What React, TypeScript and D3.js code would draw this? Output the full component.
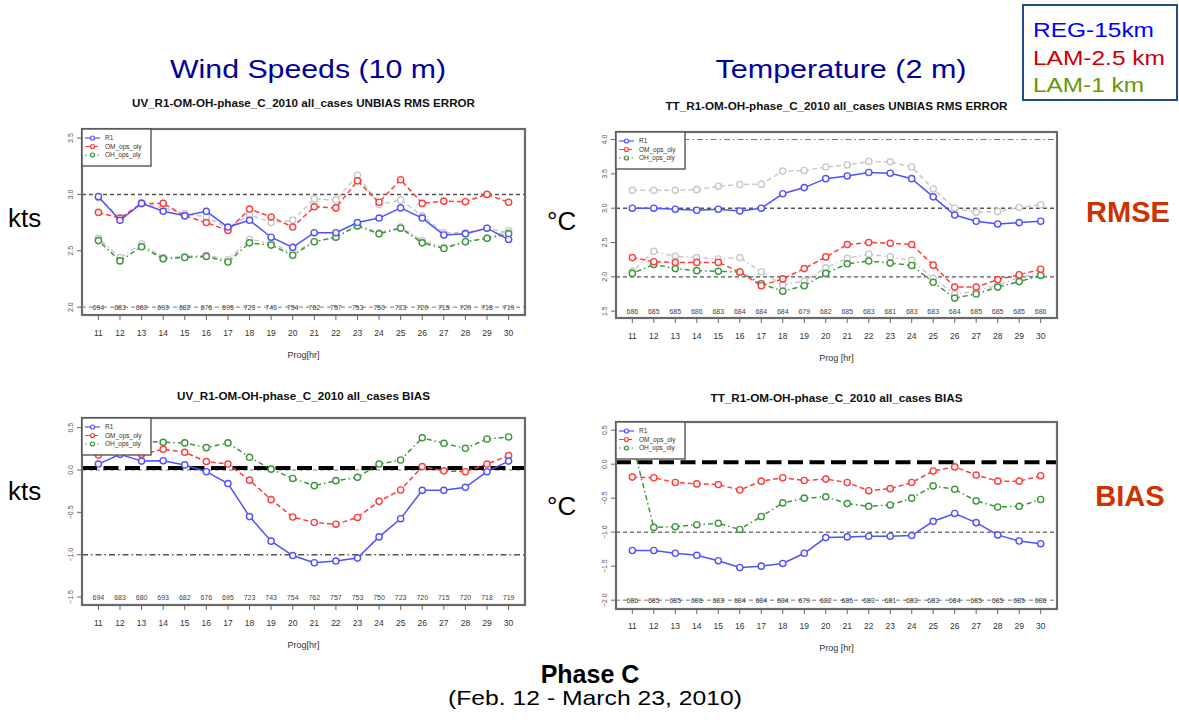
import React from "react";
import * as d3 from "d3";

// forecast hours (x axis)
const hours = [11, 12, 13, 14, 15, 16, 17, 18, 19, 20, 21, 22, 23, 24, 25, 26, 27, 28, 29, 30];

// number of cases per hour
const uvCounts = ["694", "683", "680", "693", "682", "676", "695", "723", "743", "754", "762", "757", "753", "750", "723", "720", "715", "720", "718", "719"];
const ttCounts = ["686", "685", "685", "686", "683", "684", "684", "684", "679", "682", "685", "683", "681", "683", "683", "684", "685", "685", "685", "686"];

// UV unbiased RMS error
const uvRmseR1 = [2.98, 2.77, 2.92, 2.85, 2.81, 2.85, 2.71, 2.77, 2.62, 2.53, 2.66, 2.66, 2.75, 2.79, 2.88, 2.79, 2.64, 2.65, 2.7, 2.6];
const uvRmseOM = [2.84, 2.79, 2.92, 2.92, 2.81, 2.75, 2.68, 2.87, 2.8, 2.71, 2.89, 2.88, 3.12, 2.93, 3.13, 2.92, 2.94, 2.935, 3.0, 2.93];
const uvRmseOH = [2.59, 2.41, 2.535, 2.43, 2.44, 2.45, 2.4, 2.57, 2.55, 2.46, 2.58, 2.62, 2.72, 2.65, 2.7, 2.57, 2.52, 2.58, 2.61, 2.65];
const uvRmseRefA = [2.97, 2.79, 2.92, 2.88, 2.83, 2.8, 2.7, 2.82, 2.75, 2.77, 2.96, 2.95, 3.17, 2.91, 2.95, 2.81, 2.66, 2.66, 2.7, 2.66];
const uvRmseRefB = [2.61, 2.44, 2.56, 2.44, 2.45, 2.46, 2.42, 2.6, 2.57, 2.48, 2.58, 2.62, 2.73, 2.66, 2.71, 2.59, 2.53, 2.58, 2.61, 2.68];

// TT unbiased RMS error
const ttRmseR1 = [3.0, 3.0, 2.985, 2.97, 2.985, 2.96, 3.0, 3.21, 3.3, 3.43, 3.47, 3.52, 3.51, 3.43, 3.165, 2.9, 2.81, 2.77, 2.79, 2.81];
const ttRmseOM = [2.28, 2.22, 2.21, 2.21, 2.21, 2.07, 1.87, 1.97, 2.12, 2.29, 2.47, 2.5, 2.49, 2.47, 2.17, 1.85, 1.85, 1.96, 2.03, 2.11];
const ttRmseOH = [2.05, 2.18, 2.12, 2.09, 2.08, 2.07, 1.9, 1.79, 1.87, 2.05, 2.19, 2.23, 2.2, 2.165, 1.92, 1.69, 1.75, 1.85, 1.93, 2.02];
const ttRmseRefA = [3.26, 3.26, 3.26, 3.27, 3.32, 3.345, 3.35, 3.54, 3.55, 3.6, 3.63, 3.68, 3.675, 3.6, 3.28, 3.0, 2.94, 2.95, 3.01, 3.05];
const ttRmseRefB = [2.08, 2.37, 2.3, 2.28, 2.26, 2.28, 2.07, 1.88, 1.94, 2.13, 2.27, 2.33, 2.29, 2.24, 1.98, 1.75, 1.79, 1.88, 1.99, 2.05];

// UV bias
const uvBiasR1 = [0.07, 0.185, 0.105, 0.11, 0.06, -0.02, -0.16, -0.55, -0.84, -1.01, -1.095, -1.075, -1.04, -0.79, -0.575, -0.24, -0.24, -0.205, -0.02, 0.105];
const uvBiasOM = [0.177, 0.307, 0.185, 0.244, 0.209, 0.1, 0.07, -0.12, -0.35, -0.555, -0.62, -0.64, -0.56, -0.37, -0.236, 0.04, -0.01, -0.02, 0.07, 0.17];
const uvBiasOH = [0.335, 0.354, 0.34, 0.327, 0.32, 0.264, 0.32, 0.15, 0.01, -0.1, -0.185, -0.126, -0.087, 0.07, 0.118, 0.38, 0.315, 0.256, 0.366, 0.39];

// TT bias
const ttBiasR1 = [-1.27, -1.27, -1.31, -1.34, -1.42, -1.52, -1.5, -1.46, -1.31, -1.08, -1.07, -1.06, -1.06, -1.05, -0.84, -0.725, -0.86, -1.04, -1.13, -1.17];
const ttBiasOM = [-0.19, -0.2, -0.27, -0.29, -0.3, -0.38, -0.25, -0.2, -0.24, -0.22, -0.27, -0.39, -0.36, -0.27, -0.1, -0.04, -0.16, -0.25, -0.25, -0.17];
const ttBiasOH = [0.32, -0.93, -0.92, -0.89, -0.87, -0.96, -0.77, -0.57, -0.5, -0.48, -0.58, -0.62, -0.6, -0.5, -0.32, -0.37, -0.54, -0.63, -0.62, -0.52];

const legendNames = ["R1", "OM_ops_oly", "OH_ops_oly"];
const legendTop = ["REG-15km", "LAM-2.5 km", "LAM-1 km"];
const legendTopColors = ["#0000ff", "#cc0000", "#669900"];

const FONT = "'Liberation Sans', Arial, sans-serif";
const BLUE = "#5050ff";
const RED = "#ff3c3c";
const GREEN = "#3c963c";
const GRAY = "#c8c8c8";

type Line = { values: number[]; color: string; dash: string; width: number };
type Ref = { v: number; dash: string; color: string; width: number; offset?: number };

type PanelProps = {
  title: string;
  titleY: number;
  titleW: number;
  x0: number; x1: number; y0: number; y1: number;
  domain: [number, number];
  ticks: number[];
  refs: Ref[];
  lines: Line[];
  counts: string[];
  countAt: number;
  tickY: number;
  xlab: string;
  xlabY: number;
};

function Panel(p: PanelProps) {
  const x = d3.scaleLinear().domain([11 - 0.76, 30 + 0.76]).range([p.x0, p.x1]);
  const y = d3.scaleLinear().domain(p.domain).range([p.y1, p.y0]);
  const line = d3.line<number>().x((d, i) => x(hours[i])).y((d) => y(d));
  const cx = (p.x0 + p.x1) / 2;
  return (
    <g fontFamily={FONT}>
      <text x={cx} y={p.titleY} textAnchor="middle" fontSize={10} fontWeight="bold" fill="#111"
        textLength={p.titleW} lengthAdjust="spacingAndGlyphs">{p.title}</text>
      {p.refs.map((r, i) => (
        <line key={"r" + i} x1={p.x0} x2={p.x1} y1={y(r.v) + (r.offset || 0)} y2={y(r.v) + (r.offset || 0)}
          stroke={r.color} strokeWidth={r.width} strokeDasharray={r.dash} />
      ))}
      {p.counts.map((c, i) => (
        <text key={"c" + i} x={x(hours[i])} y={y(p.countAt) + 2.5} textAnchor="middle" fontSize={7} fill="#444">{c}</text>
      ))}
      {p.lines.map((s, k) => (
        <g key={"s" + k}>
          <path d={line(s.values) || ""} fill="none" stroke={s.color} strokeWidth={s.width} strokeDasharray={s.dash} />
          {s.values.map((v, i) => (
            <circle key={i} cx={x(hours[i])} cy={y(v)} r={3.1} fill="white" stroke={s.color} strokeWidth={1.4} />
          ))}
        </g>
      ))}
      <rect x={p.x0} y={p.y0} width={p.x1 - p.x0} height={p.y1 - p.y0} fill="none" stroke="#6a6a6a" strokeWidth={2.2} />
      {/* y axis */}
      {p.ticks.map((t) => (
        <g key={"yt" + t}>
          <line x1={p.x0 - 5} x2={p.x0} y1={y(t)} y2={y(t)} stroke="#666" strokeWidth={1} />
          <text transform={`translate(${p.x0 - 9},${y(t)}) rotate(-90)`} textAnchor="middle" fontSize={7} fill="#555">
            {d3.format(".1f")(t).replace("-", "\u2212")}
          </text>
        </g>
      ))}
      {/* x axis */}
      {hours.map((h) => (
        <g key={"xt" + h}>
          <line x1={x(h)} x2={x(h)} y1={p.y1} y2={p.y1 + 5} stroke="#666" strokeWidth={1} />
          <text x={x(h)} y={p.tickY} textAnchor="middle" fontSize={8.5} fill="#333">{h}</text>
        </g>
      ))}
      <text x={cx} y={p.xlabY} textAnchor="middle" fontSize={9} fill="#333">{p.xlab}</text>
      {/* legend */}
      <rect x={p.x0} y={p.y0} width={69} height={37} fill="white" stroke="#555" strokeWidth={1.4} />
      {legendNames.map((n, i) => {
        const s = p.lines[p.lines.length - 1 - i];
        const ly = p.y0 + 9 + i * 8.5;
        return (
          <g key={n}>
            <line x1={p.x0 + 3} x2={p.x0 + 18} y1={ly} y2={ly} stroke={s.color} strokeWidth={1.2} strokeDasharray={s.dash} />
            <circle cx={p.x0 + 10.5} cy={ly} r={2} fill="white" stroke={s.color} strokeWidth={1.2} />
            <text x={p.x0 + 23} y={ly + 2.3} fontSize={6.5} fill="#333">{n}</text>
          </g>
        );
      })}
    </g>
  );
}

export default function App() {
  const solid = "";
  const dashed = "5,3";
  const dotdash = "1.5,3,5,3";
  const thick: Ref = { v: 0, dash: "15,6.5", color: "#000", width: 4, offset: -2 };

  return (
    <svg width={1179} height={724} style={{ position: "absolute", left: 0, top: 0, background: "white" }}>
      <rect width={1179} height={724} fill="white" />
      <g fontFamily={FONT}>
        <text x={308} y={78} textAnchor="middle" fontSize={25} fill="#000099" textLength={276} lengthAdjust="spacingAndGlyphs">Wind Speeds (10 m)</text>
        <text x={841} y={78} textAnchor="middle" fontSize={25} fill="#000099" textLength={251} lengthAdjust="spacingAndGlyphs">Temperature (2 m)</text>

        <rect x={1023} y={5} width={154} height={95} fill="white" stroke="#1f4e8c" strokeWidth={2} />
        {legendTop.map((t, i) => (
          <text key={t} x={1033} y={37 + i * 27.5} fontSize={20} fill={legendTopColors[i]}
            textLength={[121, 132, 111][i]} lengthAdjust="spacingAndGlyphs">{t}</text>
        ))}

        <text x={8} y={227} fontSize={26} fill="#000">kts</text>
        <text x={8} y={500} fontSize={26} fill="#000">kts</text>
        <text x={547} y={230} fontSize={26} fill="#000">°C</text>
        <text x={547} y={515} fontSize={26} fill="#000">°C</text>
        <text x={1128} y={222} textAnchor="middle" fontSize={29} fontWeight="bold" fill="#cc3300">RMSE</text>
        <text x={1130} y={506} textAnchor="middle" fontSize={29} fontWeight="bold" fill="#cc3300">BIAS</text>

        <text x={590} y={683} textAnchor="middle" fontSize={25} fontWeight="bold" fill="#000">Phase C</text>
        <text x={595} y={705} textAnchor="middle" fontSize={21} fill="#000" textLength={294} lengthAdjust="spacingAndGlyphs">(Feb. 12 - March 23, 2010)</text>
      </g>

      <Panel
        title="UV_R1-OM-OH-phase_C_2010 all_cases UNBIAS RMS ERROR" titleY={107} titleW={343}
        x0={82} x1={525} y0={129} y1={315} domain={[1.93, 3.58]} ticks={[2.0, 2.5, 3.0, 3.5]}
        refs={[{ v: 3.0, dash: "4,3", color: "#555", width: 1.5 }, { v: 2.0, dash: "4,3", color: "#777", width: 1 }]}
        lines={[
          { values: uvRmseRefB, color: GRAY, dash: dotdash, width: 1.5 },
          { values: uvRmseRefA, color: GRAY, dash: dashed, width: 1.5 },
          { values: uvRmseOH, color: GREEN, dash: dotdash, width: 1.5 },
          { values: uvRmseOM, color: RED, dash: dashed, width: 1.5 },
          { values: uvRmseR1, color: BLUE, dash: solid, width: 1.5 },
        ]}
        counts={uvCounts} countAt={2.0} tickY={336} xlab="Prog[hr]" xlabY={358}
      />
      <Panel
        title="TT_R1-OM-OH-phase_C_2010 all_cases UNBIAS RMS ERROR" titleY={110} titleW={342}
        x0={616} x1={1057} y0={132} y1={318} domain={[1.40, 4.11]} ticks={[1.5, 2.0, 2.5, 3.0, 3.5, 4.0]}
        refs={[
          { v: 4.0, dash: "6,3,1.5,3", color: "#777", width: 1 },
          { v: 3.0, dash: "4,3", color: "#555", width: 1.5 },
          { v: 2.0, dash: "4,3", color: "#555", width: 1.2 },
        ]}
        lines={[
          { values: ttRmseRefB, color: GRAY, dash: dotdash, width: 1.5 },
          { values: ttRmseRefA, color: GRAY, dash: dashed, width: 1.5 },
          { values: ttRmseOH, color: GREEN, dash: dotdash, width: 1.5 },
          { values: ttRmseOM, color: RED, dash: dashed, width: 1.5 },
          { values: ttRmseR1, color: BLUE, dash: solid, width: 1.5 },
        ]}
        counts={ttCounts} countAt={1.5} tickY={339} xlab="Prog [hr]" xlabY={361}
      />
      <Panel
        title="UV_R1-OM-OH-phase_C_2010 all_cases BIAS" titleY={400} titleW={253}
        x0={82} x1={525} y0={418} y1={605} domain={[-1.594, 0.614]} ticks={[-1.5, -1.0, -0.5, 0.0, 0.5]}
        refs={[
          { v: 0.0, dash: "4,3", color: "#777", width: 1 },
          { v: -1.0, dash: "6,3,1.5,3", color: "#555", width: 1.5 },
          thick,
        ]}
        lines={[
          { values: uvBiasOH, color: GREEN, dash: dotdash, width: 1.5 },
          { values: uvBiasOM, color: RED, dash: dashed, width: 1.5 },
          { values: uvBiasR1, color: BLUE, dash: solid, width: 1.5 },
        ]}
        counts={uvCounts} countAt={-1.5} tickY={626} xlab="Prog[hr]" xlabY={648}
      />
      <Panel
        title="TT_R1-OM-OH-phase_C_2010 all_cases BIAS" titleY={402} titleW={252}
        x0={616} x1={1057} y0={422} y1={609} domain={[-2.13, 0.62]} ticks={[-2.0, -1.5, -1.0, -0.5, 0.0, 0.5]}
        refs={[
          { v: -1.0, dash: "4,3", color: "#777", width: 1.5 },
          { v: -2.0, dash: "4,3", color: "#777", width: 1 },
          thick,
        ]}
        lines={[
          { values: ttBiasOH, color: GREEN, dash: dotdash, width: 1.5 },
          { values: ttBiasOM, color: RED, dash: dashed, width: 1.5 },
          { values: ttBiasR1, color: BLUE, dash: solid, width: 1.5 },
        ]}
        counts={ttCounts} countAt={-2.0} tickY={629} xlab="Prog [hr]" xlabY={651}
      />
    </svg>
  );
}
